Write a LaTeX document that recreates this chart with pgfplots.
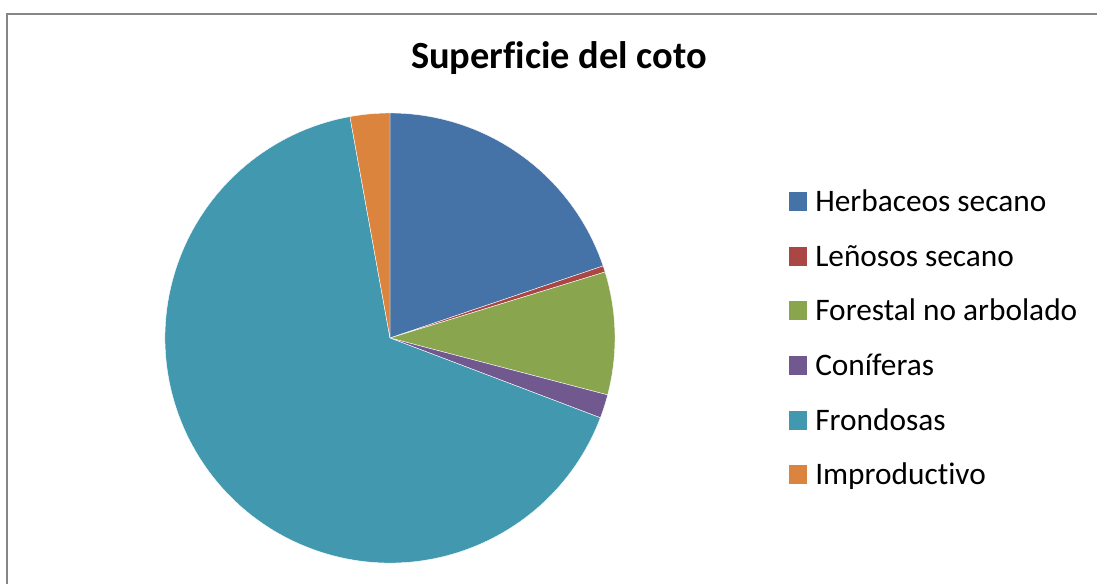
\documentclass[border=0pt]{standalone}
\usepackage{fontspec}
\setmainfont{Carlito}[Ligatures=NoCommon]
\usepackage{pgfplots}
\usepackage{pgfplotstable}
\pgfplotsset{compat=1.18}

\definecolor{pie0}{RGB}{69,114,167}
\definecolor{pie1}{RGB}{170,70,67}
\definecolor{pie2}{RGB}{137,165,78}
\definecolor{pie3}{RGB}{113,88,143}
\definecolor{pie4}{RGB}{65,152,175}
\definecolor{pie5}{RGB}{219,132,61}
\definecolor{frame}{RGB}{134,134,134}

% share of each category, in %
\pgfplotstableread{
idx value
0 19.81
1 0.45
2 8.81
3 1.70
4 66.38
5 2.85
}\piedata

% start/end angle of each slice (clockwise from 12 o'clock)
\gdef\cum{0}
\foreach \i in {0,...,5}{%
  \pgfplotstablegetelem{\i}{value}\of\piedata
  \pgfmathsetmacro\a{90-3.6*\cum}%
  \pgfmathsetmacro\b{90-3.6*(\cum+\pgfplotsretval)}%
  \pgfmathsetmacro\c{\cum+\pgfplotsretval}%
  \expandafter\xdef\csname sa\i\endcsname{\a}%
  \expandafter\xdef\csname ea\i\endcsname{\b}%
  \xdef\cum{\c}%
}

\newcommand\legitem[3]{%
  \fill[pie#1] (axis cs:789,#2-20) rectangle (axis cs:807,#2-1);
  \node[anchor=base west, inner sep=0pt, font=\fontsize{23.5}{28}\selectfont] at (axis cs:815,#2) {#3};
}

\begin{document}
\begin{tikzpicture}
\begin{axis}[
  x=0.75pt, y=0.75pt,
  xmin=0, xmax=1097, ymin=0, ymax=584,
  y dir=reverse,
  hide axis, clip=false,
]
% corners of the chart area
\coordinate (bl) at (axis cs:0,584);
\coordinate (tr) at (axis cs:1097,0);

% pie slices
\pgfplotsinvokeforeach{0,...,5}{
  \fill[pie#1, draw=white, line width=0.3pt] (axis cs:390,338)
    -- ++(\csname sa#1\endcsname:168.75pt)
    arc[start angle=\csname sa#1\endcsname, end angle=\csname ea#1\endcsname, radius=168.75pt]
    -- cycle;
}

% frame
\draw[frame, line width=1.5pt] (axis cs:7,590) -- (axis cs:7,14) -- (axis cs:1100,14);

% title
\node[anchor=base, font=\bfseries\fontsize{28.8}{34}\selectfont] at (axis cs:559,69) {Superficie del coto};

% legend
\legitem{0}{212}{Herbaceos secano}
\legitem{1}{267}{Leñosos secano}
\legitem{2}{321}{Forestal no arbolado}
\legitem{3}{376}{Coníferas}
\legitem{4}{431}{Frondosas}
\legitem{5}{485}{Improductivo}
\end{axis}
\pgfresetboundingbox
\useasboundingbox (bl) rectangle (tr);
\end{tikzpicture}
\end{document}
